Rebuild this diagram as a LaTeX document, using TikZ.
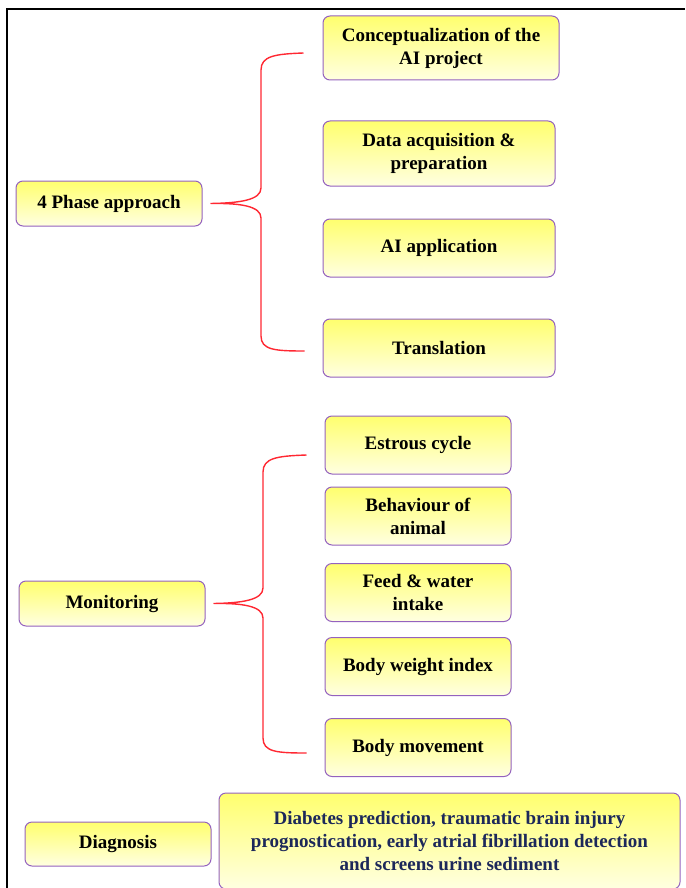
\documentclass[tikz,border=0pt]{standalone}
\usepackage{fontspec}
\setmainfont{Liberation Serif}
\usepackage{xcolor}
\usepackage{tikz}
\usetikzlibrary{positioning,calc,shadings}

\definecolor{boxline}{RGB}{148,98,190}
\definecolor{boxtop}{RGB}{255,255,110}
\definecolor{boxbot}{RGB}{255,255,225}
\definecolor{bracered}{RGB}{255,40,50}
\definecolor{navytext}{RGB}{28,40,90}

\begin{document}
\begin{tikzpicture}[
                x=1pt, y=-1pt,
                box/.style={draw=boxline, line width=1pt, rounded corners=7pt,
                    top color=boxtop, bottom color=boxbot, align=center,
                    font=\fontsize{19}{23}\selectfont\bfseries, inner sep=0pt},
                bracket/.style={draw=bracered, line width=1.4pt}
            ]
                \useasboundingbox (0,0) rectangle (685,888);
                \draw[line width=2pt] (7,888) -- (7,9) -- (685,9);

                % --- 4 PHASE APPROACH ---
                \node[box, minimum width=186pt, minimum height=45pt] (phase) at (109,203.5) {4 Phase approach};
                \node[box, minimum width=236pt, minimum height=64pt] (concept) at (441,48) {Conceptualization of the\\AI project};
                \node[box, minimum width=232pt, minimum height=65pt] (data) at (439,153.5) {Data acquisition \&\\preparation};
                \node[box, minimum width=232pt, minimum height=58pt] (aiapp) at (439,248) {AI application};
                \node[box, minimum width=232pt, minimum height=58pt] (transl) at (439,348) {Translation};

                \coordinate (pcusp) at ($(phase.east)+(8,0)$);
                \coordinate (ptop) at ($(concept.west)+(-19,5)$);
                \coordinate (pbot) at ($(transl.west)+(-18,3)$);
                \draw[bracket] (ptop) .. controls (275,54) and (261,56) .. (261,70) -- (261,188)
                    .. controls (261,200) and (240,203) .. (pcusp)
                    .. controls (240,203) and (261,206) .. (261,218) -- (261,336)
                    .. controls (261,350) and (275,351) .. (pbot);

                % --- MONITORING ---
                \node[box, minimum width=186pt, minimum height=45pt] (monit) at (112,603.5) {Monitoring};
                \node[box, minimum width=186pt, minimum height=58pt] (estrous) at (418,445) {Estrous cycle};
                \node[box, minimum width=186pt, minimum height=58pt] (behav) at (418,516) {Behaviour of\\animal};
                \node[box, minimum width=186pt, minimum height=58pt] (feed) at (418,592.5) {Feed \& water\\intake};
                \node[box, minimum width=186pt, minimum height=58pt] (weight) at (418,666.5) {Body weight index};
                \node[box, minimum width=186pt, minimum height=58pt] (move) at (418,747.5) {Body movement};

                \coordinate (mcusp) at ($(monit.east)+(8,0)$);
                \coordinate (mtop) at ($(estrous.west)+(-18,10)$);
                \coordinate (mbot) at ($(move.west)+(-18,5.5)$);
                \draw[bracket] (mtop) .. controls (277,456) and (263,458) .. (263,472) -- (263,588)
                    .. controls (263,600) and (242,603) .. (mcusp)
                    .. controls (242,603) and (263,606) .. (263,618) -- (263,738)
                    .. controls (263,752) and (277,753) .. (mbot);

                % --- DIAGNOSIS ---
                \node[box, minimum width=186pt, minimum height=44pt] (diag) at (118,844) {Diagnosis};
                \node[box, minimum width=461pt, minimum height=96pt, text=navytext] (diseases) at (449.5,841)
                    {Diabetes prediction, traumatic brain injury\\prognostication, early atrial fibrillation detection\\and screens urine sediment};

            \end{tikzpicture}
\end{document}
